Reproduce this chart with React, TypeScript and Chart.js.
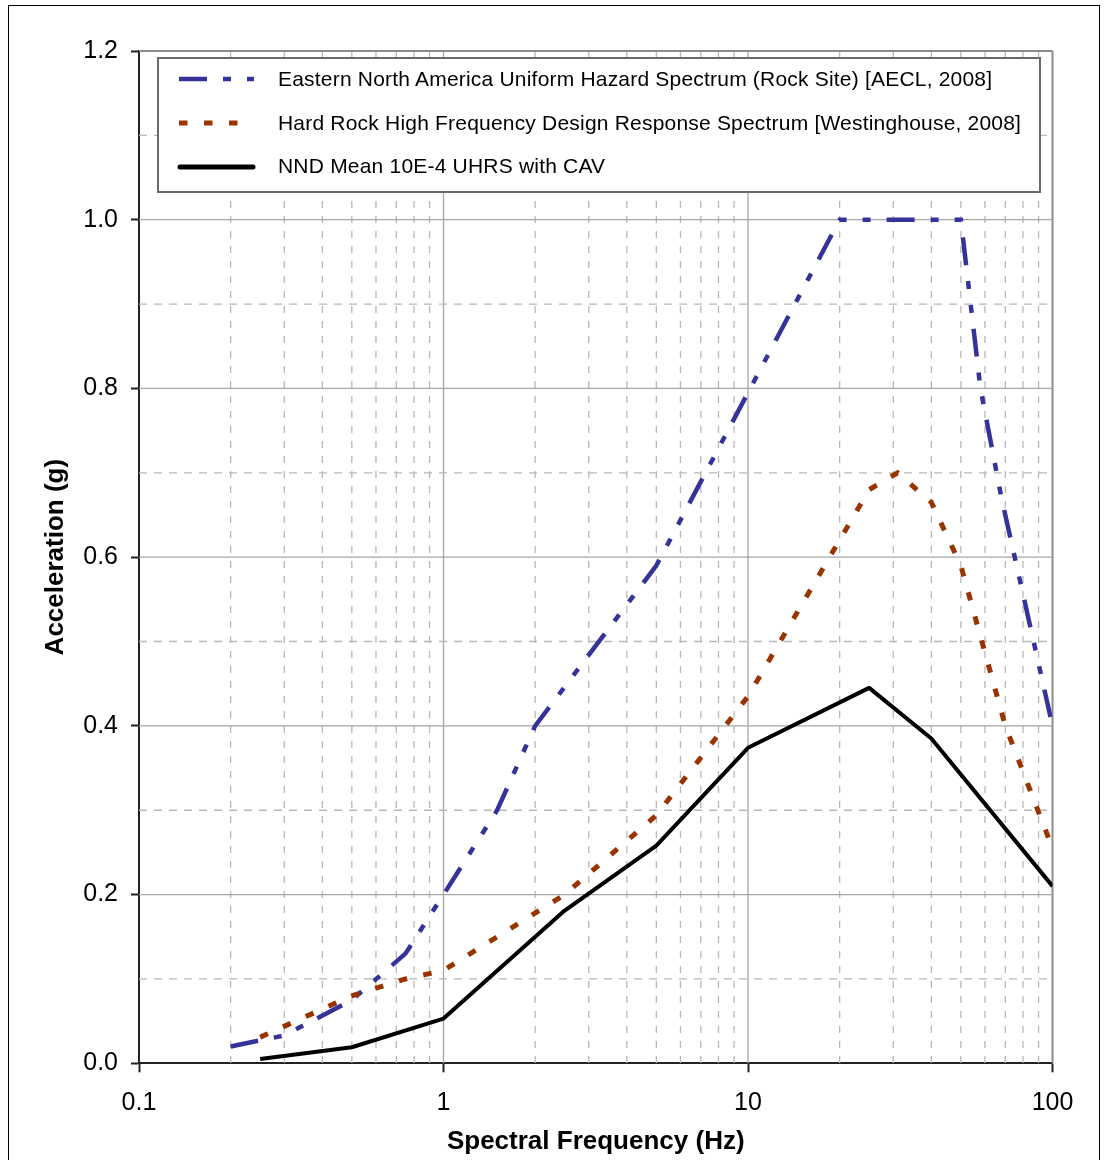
import React, { useEffect, useRef } from 'react';
import { Chart, registerables } from 'chart.js';

Chart.register(...registerables);

const FONT = '"Liberation Sans", Arial, Helvetica, sans-serif';

// ---- data ----
const ENA_FREQ = [0.2, 0.3, 0.5, 0.75, 1, 1.5, 2, 5, 10, 20, 50, 58, 68, 100];
const ENA_ACC = [0.02, 0.033, 0.075, 0.13, 0.2, 0.3, 0.4, 0.59, 0.795, 1.0, 1.0, 0.8, 0.67, 0.4];

const HRHF_FREQ = [0.25, 0.5, 0.75, 1, 2.5, 5, 10, 25, 31, 40, 50, 70, 100];
const HRHF_ACC = [0.031, 0.08, 0.1, 0.11, 0.2, 0.294, 0.435, 0.68, 0.7, 0.665, 0.59, 0.4, 0.255];

const NND_FREQ = [0.25, 0.5, 1, 2.5, 5, 10, 25, 40, 100];
const NND_ACC = [0.005, 0.019, 0.053, 0.181, 0.258, 0.374, 0.445, 0.385, 0.21];

const SERIES_LABELS = [
  'Eastern North America Uniform Hazard Spectrum (Rock Site) [AECL, 2008]',
  'Hard Rock High Frequency Design Response Spectrum [Westinghouse, 2008]',
  'NND Mean 10E-4 UHRS with CAV',
];

const X_MAJOR = [0.1, 1, 10, 100];
const X_TICK_LABELS = ['0.1', '1', '10', '100'];
const X_MINOR_MULT = [2, 3, 4, 5, 6, 7, 8, 9];

const Y_MIN = 0;
const Y_MAX = 1.2;
const Y_STEP = 0.1;

const X_TITLE = 'Spectral Frequency (Hz)';
const Y_TITLE = 'Acceleration (g)';

// ---- styles ----
const BLUE = '#333399';
const ORANGE = '#993300';
const BLACK = '#000000';
const BLUE_DASH = [28, 16, 8, 16, 8, 16];
const ORANGE_DASH = [8.5, 16.5];

const xGridValues: number[] = [];
X_MAJOR.forEach((d, i) => {
  xGridValues.push(d);
  if (i < X_MAJOR.length - 1) X_MINOR_MULT.forEach((m) => xGridValues.push(d * m));
});

const toPoints = (xs: number[], ys: number[]) => xs.map((x, i) => ({ x, y: ys[i] }));

const isEvenTenth = (v: number) => Math.round(v * 10) % 2 === 0;

const gridPlugin = {
  id: 'excelGrid',
  beforeDatasetsDraw(chart: any) {
    const { ctx, chartArea, scales } = chart;
    const { left, right, top, bottom } = chartArea;
    const x = scales.x;
    const y = scales.y;
    ctx.save();
    x.ticks.forEach((t: any) => {
      const px = x.getPixelForValue(t.value);
      if (px <= left + 1) return;
      const isEdge = px >= right - 1;
      ctx.beginPath();
      ctx.setLineDash(t.major ? [] : [7, 8]);
      ctx.lineWidth = isEdge ? 2 : 1.3;
      ctx.strokeStyle = isEdge ? '#8c8c8c' : t.major ? '#a6a6a6' : '#b8b8b8';
      ctx.moveTo(px, top);
      ctx.lineTo(px, bottom);
      ctx.stroke();
    });
    y.ticks.forEach((t: any) => {
      const py = y.getPixelForValue(t.value);
      if (py >= bottom - 1) return;
      const isEdge = py <= top + 1;
      const major = isEvenTenth(t.value);
      ctx.beginPath();
      ctx.setLineDash(major ? [] : [8, 7]);
      ctx.lineWidth = isEdge ? 2 : 1.3;
      ctx.strokeStyle = isEdge ? '#8c8c8c' : major ? '#a6a6a6' : '#b8b8b8';
      ctx.moveTo(left, py);
      ctx.lineTo(right, py);
      ctx.stroke();
    });
    ctx.restore();
  },
};

export default function App() {
  const ref = useRef<HTMLCanvasElement>(null);

  useEffect(() => {
    const canvas = ref.current;
    if (!canvas) return;
    const chart = new Chart(canvas, {
      type: 'line',
      data: {
        datasets: [
          {
            label: SERIES_LABELS[0],
            data: toPoints(ENA_FREQ, ENA_ACC),
            borderColor: BLUE,
            backgroundColor: BLUE,
            borderWidth: 4.5,
            borderDash: BLUE_DASH,
            borderCapStyle: 'butt',
            pointRadius: 0,
            tension: 0,
            fill: false,
            order: 3,
          },
          {
            label: SERIES_LABELS[1],
            data: toPoints(HRHF_FREQ, HRHF_ACC),
            borderColor: ORANGE,
            backgroundColor: ORANGE,
            borderWidth: 5,
            borderDash: ORANGE_DASH,
            borderCapStyle: 'butt',
            pointRadius: 0,
            tension: 0,
            fill: false,
            order: 2,
          },
          {
            label: SERIES_LABELS[2],
            data: toPoints(NND_FREQ, NND_ACC),
            borderColor: BLACK,
            backgroundColor: BLACK,
            borderWidth: 4,
            borderJoinStyle: 'round',
            pointRadius: 0,
            tension: 0,
            fill: false,
            order: 1,
          },
        ],
      } as any,
      options: {
        responsive: false,
        animation: false,
        devicePixelRatio: 1,
        layout: { padding: { left: 0, right: 51.5, top: 51, bottom: 0 } },
        plugins: { legend: { display: false }, tooltip: { enabled: false } },
        scales: {
          x: {
            type: 'logarithmic',
            min: 0.1,
            max: 100,
            afterBuildTicks: (scale: any) => {
              scale.ticks = xGridValues.map((v) => ({ value: v, major: X_MAJOR.includes(v) }));
            },
            afterFit: (scale: any) => {
              scale.height = 96.7;
            },
            ticks: {
              autoSkip: false,
              maxRotation: 0,
              minRotation: 0,
              padding: 16,
              color: '#000',
              font: { family: FONT, size: 25 },
              callback: (value: any) => {
                const i = X_MAJOR.indexOf(Number(value));
                return i >= 0 ? X_TICK_LABELS[i] : '';
              },
            },
            grid: {
              drawOnChartArea: false,
              drawTicks: true,
              tickLength: 9,
              tickWidth: 2,
              tickColor: (ctx: any) => (ctx.tick && X_MAJOR.includes(ctx.tick.value) ? '#222' : 'rgba(0,0,0,0)'),
            },
            border: { display: true, color: '#222', width: 2 },
            title: {
              display: true,
              text: X_TITLE,
              color: '#000',
              font: { family: FONT, size: 26, weight: 'bold' },
              padding: { top: 0, bottom: 3 },
            },
          },
          y: {
            type: 'linear',
            min: Y_MIN,
            max: Y_MAX,
            afterFit: (scale: any) => {
              scale.width = 139;
            },
            ticks: {
              stepSize: Y_STEP,
              autoSkip: false,
              padding: 13,
              color: '#000',
              font: { family: FONT, size: 25 },
              callback: (value: any) => (isEvenTenth(Number(value)) ? Number(value).toFixed(1) : ''),
            },
            grid: {
              drawOnChartArea: false,
              drawTicks: true,
              tickLength: 8,
              tickWidth: 2,
              tickColor: (ctx: any) => (ctx.tick && isEvenTenth(ctx.tick.value) ? '#222' : 'rgba(0,0,0,0)'),
            },
            border: { display: true, color: '#222', width: 2 },
            title: {
              display: true,
              text: Y_TITLE,
              color: '#000',
              font: { family: FONT, size: 26, weight: 'bold' },
              padding: { top: 40, bottom: 0 },
            },
          },
        },
      } as any,
      plugins: [gridPlugin],
    });
    return () => chart.destroy();
  }, []);

  const textStyle: React.CSSProperties = {
    position: 'absolute',
    left: 278,
    fontFamily: FONT,
    fontSize: 21,
    lineHeight: '24px',
    letterSpacing: '0.2px',
    color: '#000',
    whiteSpace: 'nowrap',
  };

  return (
    <div style={{ position: 'absolute', left: 0, top: 0, width: 1104, height: 1160, overflow: 'hidden', background: '#fff' }}>
      <div
        style={{
          position: 'absolute',
          left: 8,
          top: 5,
          width: 1092,
          height: 1200,
          border: '1.5px solid #000',
          boxSizing: 'border-box',
        }}
      />
      <canvas ref={ref} width={1104} height={1160} style={{ position: 'absolute', left: 0, top: 0, width: 1104, height: 1160 }} />
      <div
        style={{
          position: 'absolute',
          left: 157,
          top: 57,
          width: 884,
          height: 136,
          border: '2px solid #6a6a6a',
          boxSizing: 'border-box',
          background: '#fff',
        }}
      />
      <svg style={{ position: 'absolute', left: 0, top: 0 }} width={300} height={200}>
        <line x1={179} y1={79} x2={254} y2={79} stroke={BLUE} strokeWidth={4.5} strokeDasharray={BLUE_DASH.join(' ')} />
        <line x1={179} y1={123} x2={254} y2={123} stroke={ORANGE} strokeWidth={5} strokeDasharray={ORANGE_DASH.join(' ')} />
        <line x1={180} y1={167} x2={253} y2={167} stroke={BLACK} strokeWidth={5} strokeLinecap="round" />
      </svg>
      <div style={{ ...textStyle, top: 67 }}>{SERIES_LABELS[0]}</div>
      <div style={{ ...textStyle, top: 110.5 }}>{SERIES_LABELS[1]}</div>
      <div style={{ ...textStyle, top: 154 }}>{SERIES_LABELS[2]}</div>
    </div>
  );
}
